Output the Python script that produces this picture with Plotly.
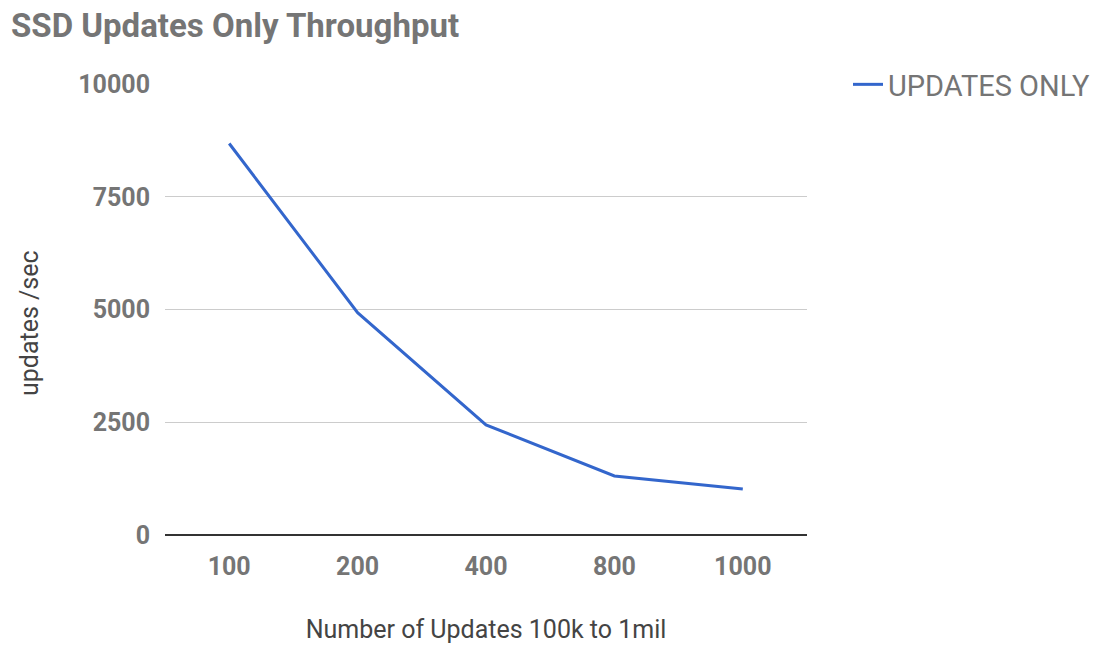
import plotly.graph_objects as go

categories = ["100", "200", "400", "800", "1000"]
updates_only = [8680, 4930, 2440, 1310, 1020]
y_ticks = [0, 2500, 5000, 7500, 10000]

fig = go.Figure()
fig.add_trace(go.Scatter(
    x=categories, y=updates_only, mode="lines", name="UPDATES ONLY",
    line=dict(color="#3366CC", width=3),
))

W, H = 1103, 647
ml, mr, mt, mb = 165, 296, 84, 112
PW, PH = W - ml - mr, H - mt - mb

fig.update_layout(
    width=W, height=H,
    margin=dict(l=ml, r=mr, t=mt, b=mb, autoexpand=False),
    paper_bgcolor="white", plot_bgcolor="white",
    font=dict(family="Roboto", color="#757575"),
    title=dict(text="<b>SSD Updates Only Throughput</b>", x=11 / W, xanchor="left",
               y=1 - 25 / H, yanchor="middle",
               font=dict(size=33, color="#757575", family="Roboto")),
    showlegend=True,
    legend=dict(x=1 + (848 - (ml + PW)) / PW, xanchor="left",
                y=1 + 25 / PH, yanchor="top",
                font=dict(size=29, color="#757575", family="Roboto"),
                bgcolor="rgba(0,0,0,0)", itemwidth=30),
    xaxis=dict(
        type="category", range=[-0.5, 4.5], automargin=False,
        showgrid=False, showline=False, zeroline=False,
        ticks="", ticklabelstandoff=14,
        tickfont=dict(size=25, color="#757575", family="Roboto", weight="bold"),
        title=dict(text="Number of Updates 100k to 1mil", standoff=40,
                   font=dict(size=25, color="#444444", family="Roboto")),
    ),
    yaxis=dict(
        range=[0, 10000], tickvals=y_ticks, ticktext=[str(v) for v in y_ticks],
        automargin=False,
        showgrid=True, gridcolor="#CCCCCC", gridwidth=1,
        zeroline=True, zerolinecolor="#333333", zerolinewidth=2,
        showline=False, ticks="", ticklabelstandoff=14,
        tickfont=dict(size=25, color="#757575", family="Roboto", weight="bold"),
    ),
    annotations=[dict(
        text="updates /sec", textangle=-90, showarrow=False,
        xref="paper", yref="paper",
        x=(29 - ml) / PW, y=1 - (323 - mt) / PH,
        xanchor="center", yanchor="middle",
        font=dict(size=25, color="#444444", family="Roboto"),
    )],
)

fig.write_html("out.html")
